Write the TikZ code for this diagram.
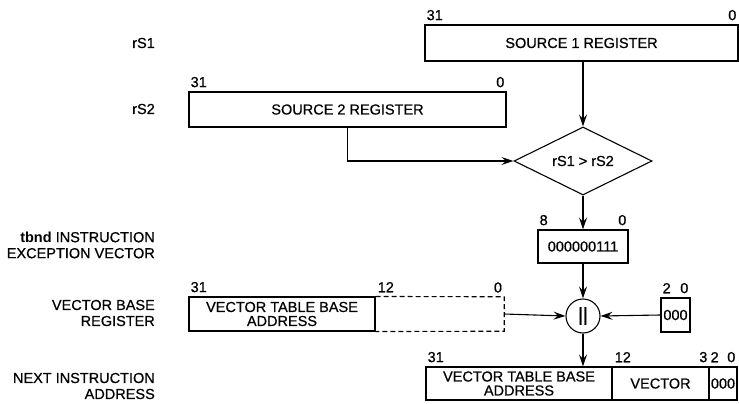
\documentclass[tikz,border=0pt]{standalone}
\usepackage{fontspec}
\setmainfont{Liberation Sans}[UprightFeatures={FakeBold=0.6}]
\usetikzlibrary{shapes.geometric,arrows.meta}
\begin{document}
\begin{tikzpicture}[x=1pt,y=-1pt,
        font=\fontsize{14.5}{14}\selectfont,
        reg/.style={draw,line width=1.1pt,inner sep=0pt,minimum height=34pt,align=center},
        bit/.style={inner xsep=2pt,inner ysep=4pt},
        side/.style={anchor=east,align=right,inner sep=0pt,font=\fontsize{14.5}{16}\selectfont},
        arr/.style={line width=1.1pt,-{Stealth[length=12pt,width=8pt,inset=4.5pt]}}]
        \useasboundingbox (0,0) rectangle (739,404);
        \node[side] (rsa) at (155,43) {rS1};
        \node[side] (rsb) at (155,109) {rS2};
        \node[side] (tbnd) at (155,245) {\textbf{tbnd} INSTRUCTION\\EXCEPTION VECTOR};
        \node[side] (vbrname) at (155,313) {VECTOR BASE\\REGISTER};
        \node[side] (nianame) at (155,386) {NEXT INSTRUCTION\\ADDRESS};

        \node[reg, minimum width=313pt, minimum height=36pt] (src1) at (581.5,43) {SOURCE 1 REGISTER};
        \node[bit, above right] at (src1.north west) {31};
        \node[bit, above left] at (src1.north east) {0};

        \node[reg, minimum width=317pt, minimum height=35pt] (src2) at (347.5,109.5) {SOURCE 2 REGISTER};
        \node[bit, above right] at (src2.north west) {31};
        \node[bit, above left] at (src2.north east) {0};

        \node[draw, diamond, aspect=2, line width=1.1pt, inner sep=0pt,
            minimum width=138pt, minimum height=68pt] (cmp) at (583,161) {rS1 > rS2};

        \node[reg, minimum width=90pt, minimum height=33pt] (vec) at (583,246.5) {000000111};
        \node[bit, above right] at (vec.north west) {8};
        \node[bit, above left] at (vec.north east) {0};

        \node[draw, circle, line width=1.1pt, inner sep=0pt, minimum size=34pt,
            font=\fontsize{19}{19}\selectfont] (cat) at (583,316) {||};

        \node[reg, minimum width=29pt] (zero3) at (675.5,315) {000};
        \node[bit, above right] at (zero3.north west) {2};
        \node[bit, above left] at (zero3.north east) {0};

        \node[reg, minimum width=186pt] (vbr) at (282,314) {VECTOR TABLE BASE\\ADDRESS};
        \node[inner sep=0pt, minimum width=129pt, minimum height=34pt] (vbrlo) at (439.5,314) {};
        \draw[line width=1.1pt, dash pattern=on 5pt off 3pt]
            (vbr.north east) -- (vbrlo.north east) -- (vbrlo.south east) -- (vbr.south east);
        \node[bit, above right] at (vbr.north west) {31};
        \node[bit, above right] at (vbr.north east) {12};
        \node[bit, above left] at (vbrlo.north east) {0};

        \node[reg, minimum width=186pt, minimum height=33pt] (niahi) at (519,383.5) {VECTOR TABLE BASE\\ADDRESS};
        \node[reg, minimum width=97pt, minimum height=33pt] (niavec) at (660.5,383.5) {VECTOR};
        \node[reg, minimum width=28pt, minimum height=33pt] (nialo) at (723,383.5) {000};
        \node[bit, above right] at (niahi.north west) {31};
        \node[bit, above right] at (niahi.north east) {12};
        \node[bit, above left] at (niavec.north east) {3};
        \node[bit, above right] at (nialo.north west) {2};
        \node[bit, above left] at (nialo.north east) {0};

        \draw[arr] (cmp.north |- src1.south) -- (cmp.north);
        \draw[arr] (src2.south) |- (cmp.west);
        \draw[arr] (cmp.south) -- (vec.north);
        \draw[arr] (vec.south) -- (cat.north);
        \draw[arr] (zero3.west) -- (cat.east);
        \draw[arr] (vbrlo.east) -- (cat.west);
        \draw[arr] (cat.south) -- (cat.south |- niahi.north);
\end{tikzpicture}
\end{document}
